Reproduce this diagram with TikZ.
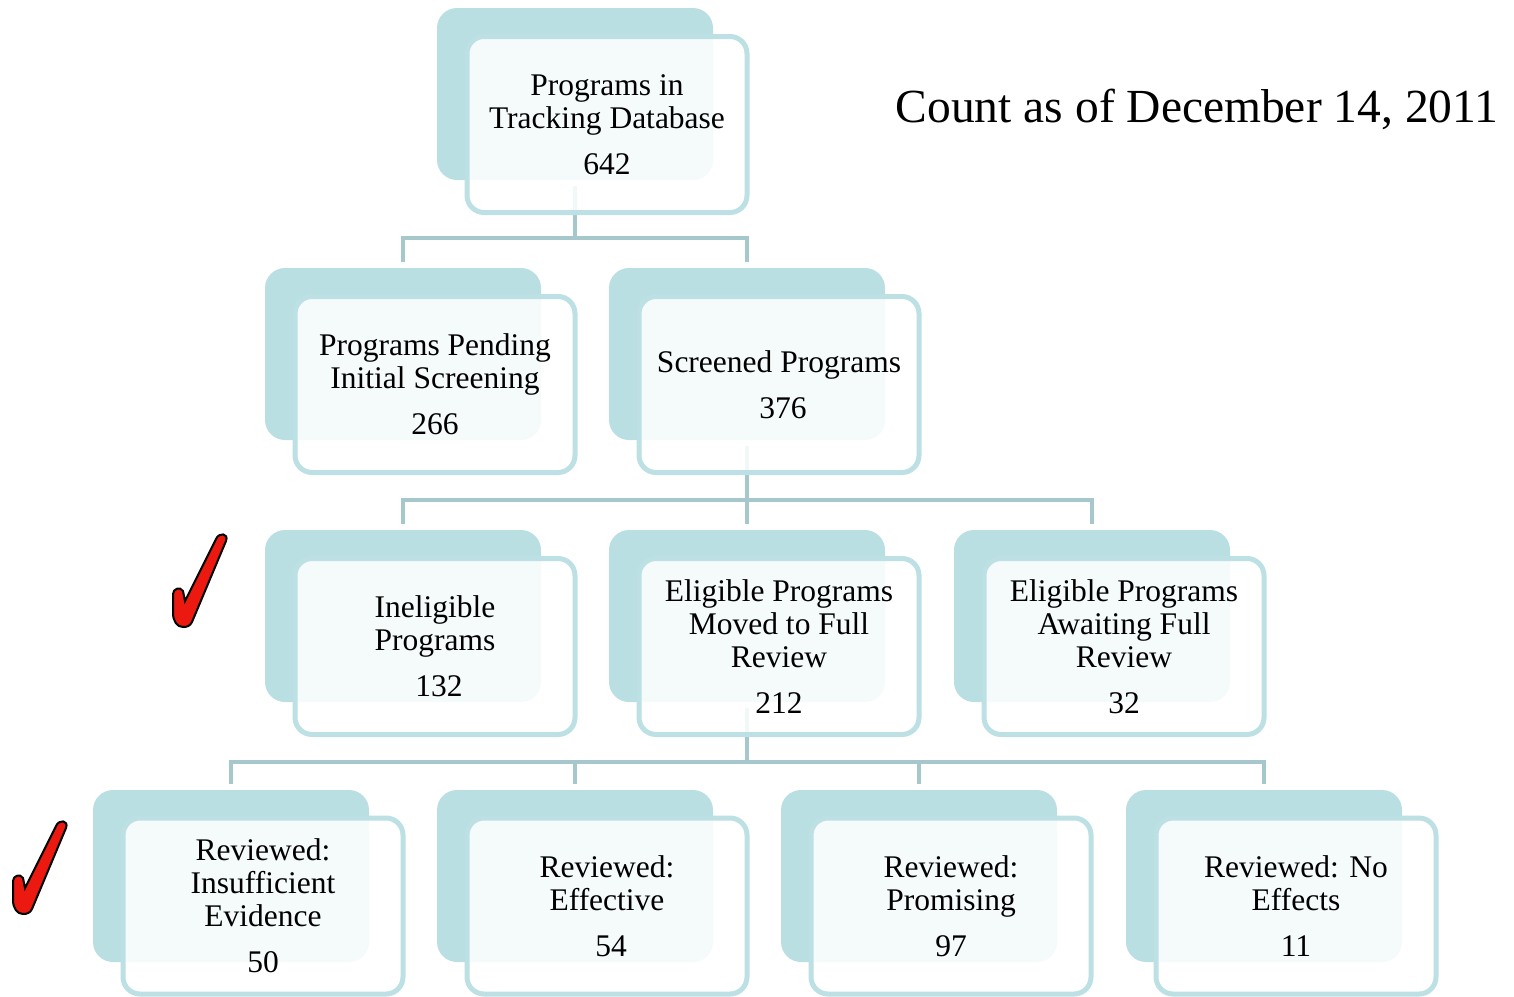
\documentclass[tikz,border=0pt]{standalone}
\usepackage{fontspec}
\setmainfont{Liberation Serif}
\usetikzlibrary{calc}
\definecolor{backc}{RGB}{186,223,227}
\definecolor{framec}{RGB}{188,224,228}
\definecolor{connc}{RGB}{166,199,203}
\definecolor{checkred}{RGB}{235,25,15}
\begin{document}
\begin{tikzpicture}[x=1pt,y=-1pt,
 backbox/.style={draw=none, fill=backc, rounded corners=20pt, minimum width=276pt, minimum height=172pt, inner sep=0pt},
 frontbox/.style={draw=framec, line width=5pt, fill=white, fill opacity=0.86, text opacity=1, rounded corners=17pt, minimum width=280pt, minimum height=176pt, align=center, font=\fontsize{31.5}{33}\selectfont, inner sep=0pt},
 conn/.style={draw=connc, line width=4pt},
 redcheck/.pic={
   \filldraw[fill=checkred, draw=black, line width=2pt]
   (0,0) .. controls (-6,0) and (-10,-6) .. (-10,-14) -- (-10,-33)
     .. controls (-10,-38) and (-3,-41) .. (0,-36) -- (2,-26) -- (33,-88)
     .. controls (36,-95) and (46,-94) .. (43,-86) -- (9,-5)
     .. controls (7,-1) and (4,0) .. (0,0) -- cycle;
 }]
\useasboundingbox (0,0) rectangle (1514,996);

% back boxes
\node[backbox] (b1) at (575,94) {};
\node[backbox] (b21) at (403,354) {};
\node[backbox] (b22) at (747,354) {};
\node[backbox] (b31) at (403,616) {};
\node[backbox] (b32) at (747,616) {};
\node[backbox] (b33) at (1092,616) {};
\node[backbox] (b41) at (231,876) {};
\node[backbox] (b42) at (575,876) {};
\node[backbox] (b43) at (919,876) {};
\node[backbox] (b44) at (1264,876) {};

% connectors
\coordinate (bus1) at (575,238);
\coordinate (bus2) at (747,500);
\coordinate (bus3) at (747,762);
\draw[conn] ($(b1.south)+(0,6)$) -- (bus1);
\draw[conn] ($(b21.north)+(0,-6)$) |- (bus1) -| ($(b22.north)+(0,-6)$);
\draw[conn] ($(b22.south)+(0,6)$) -- ($(b32.north)+(0,-6)$);
\draw[conn] ($(b31.north)+(0,-6)$) |- (bus2) -| ($(b33.north)+(0,-6)$);
\draw[conn] ($(b32.south)+(0,6)$) -- (bus3);
\draw[conn] ($(b41.north)+(0,-6)$) |- (bus3) -| ($(b44.north)+(0,-6)$);
\draw[conn] ($(b42.north)+(0,-6)$) -- (b42.north |- bus3);
\draw[conn] ($(b43.north)+(0,-6)$) -- (b43.north |- bus3);

% front boxes
\node[frontbox] (f1) at (607,124.5) {Programs in\\Tracking Database\\[13pt]642};
\node[frontbox] (f21) at (435,384.5) {Programs Pending\\Initial Screening\\[13pt]266};
\node[frontbox] (f22) at (779,384.5) {Screened Programs\\[13pt]\hspace*{8pt}376};
\node[frontbox] (f31) at (435,646.5) {Ineligible\\Programs\\[13pt]\hspace*{8pt}132};
\node[frontbox] (f32) at (779,646.5) {Eligible Programs\\Moved to Full\\Review\\[13pt]212};
\node[frontbox] (f33) at (1124,646.5) {Eligible Programs\\Awaiting Full\\Review\\[13pt]32};
\node[frontbox] (f41) at (263,906) {Reviewed:\\Insufficient\\Evidence\\[13pt]50};
\node[frontbox] (f42) at (607,906) {Reviewed:\\Effective\\[13pt]\hspace*{8pt}54};
\node[frontbox] (f43) at (951,906) {Reviewed:\\Promising\\[13pt]97};
\node[frontbox] (f44) at (1296,906) {Reviewed: No\\Effects\\[13pt]11};

% title
\node[anchor=base, font=\fontsize{47.5}{50}\selectfont, inner sep=0pt] (title) at (1197,122) {Count as of December 14, 2011};

% check marks
\pic at (183,627) {redcheck};
\pic at (23,914) {redcheck};
\end{tikzpicture}
\end{document}
